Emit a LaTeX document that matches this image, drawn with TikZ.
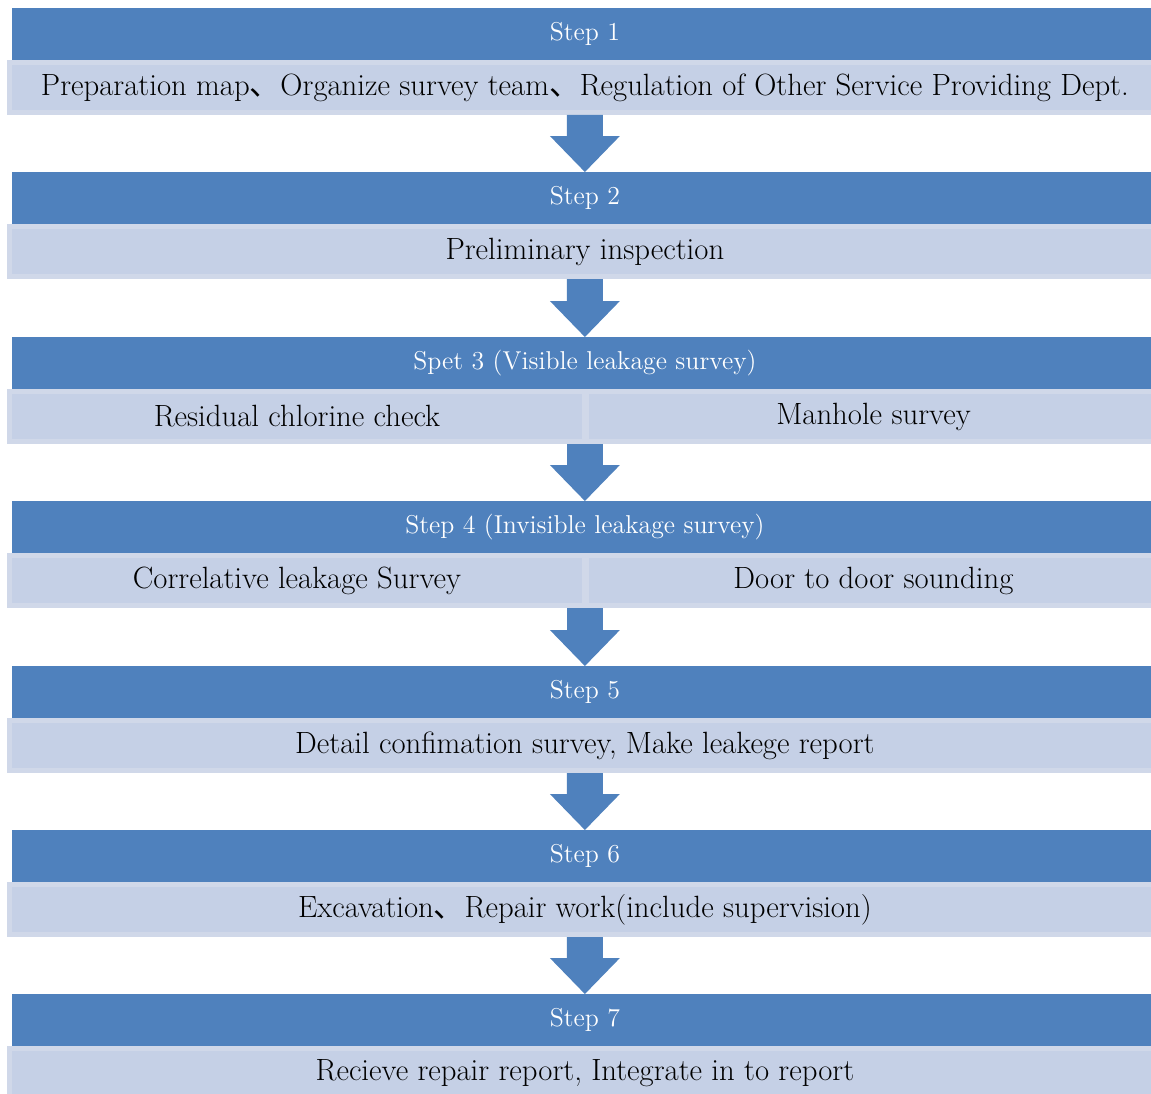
\documentclass[tikz,border=0pt]{standalone}
\usepackage{fontspec}
\usetikzlibrary{arrows.meta}
\newfontfamily\cjk{Noto Sans CJK JP}
\definecolor{stephead}{HTML}{4F81BD}
\definecolor{stepbody}{HTML}{C5D0E6}
\definecolor{steprim}{HTML}{D0D8E9}
\newcommand{\jcomma}{{\cjk 、}}

\begin{document}
\begin{tikzpicture}
      [   x=0.02cm, y=-0.02cm,
          head/.style={fill=stephead,text=white,anchor=north west,outer sep=0pt,inner sep=0pt,
                       minimum width=22.92cm,minimum height=1.04cm,font=\fontsize{14.7}{16}\selectfont},
          body/.style={fill=stepbody,draw=steprim,line width=0.1cm,anchor=north west,inner sep=0pt,
                       minimum height=1cm,font=\fontsize{17.5}{19}\selectfont},
          wide/.style={body,minimum width=23.02cm},
          half/.style={body,minimum width=#1},
          flow/.style={draw=stephead,line width=0.72cm,-{Triangle[length=0.72cm,width=1.4cm,line width=0pt]}},
      ]
          \useasboundingbox (0,0) rectangle (1151,1093);

          \node[head] (h1) at (12,8) {Step 1};
          \node[wide] (b1) at (7,60) {Preparation map\jcomma Organize survey team\jcomma Regulation of Other Service Providing Dept.};

          \node[head] (h2) at (12,172) {Step 2};
          \node[wide] (b2) at (7,224) {Preliminary inspection};

          \node[head] (h3) at (12,337) {Spet 3 (Visible leakage survey)};
          \node[half=11.5cm] (b3l) at (7,389) {Residual chlorine check};
          \node[half=11.48cm] (b3r) at (584,389) {Manhole survey};

          \node[head] (h4) at (12,501) {Step 4 (Invisible leakage survey)};
          \node[half=11.5cm] (b4l) at (7,553) {Correlative leakage Survey};
          \node[half=11.48cm] (b4r) at (584,553) {Door to door sounding};

          \node[head] (h5) at (12,666) {Step 5};
          \node[wide] (b5) at (7,718) {Detail confimation survey, Make leakege report};

          \node[head] (h6) at (12,830) {Step 6};
          \node[wide] (b6) at (7,882) {Excavation\jcomma Repair work(include supervision)};

          \node[head] (h7) at (12,994) {Step 7};
          \node[wide] (b7) at (7,1046) {Recieve repair report, Integrate in to report};

          % block arrows between the steps
          \draw[flow] (b1.south) -- (h2.north);
          \draw[flow] (b2.south) -- (h3.north);
          \draw[flow] (h4.north |- b3l.south east) -- (h4.north);
          \draw[flow] (h5.north |- b4l.south east) -- (h5.north);
          \draw[flow] (b5.south) -- (h6.north);
          \draw[flow] (b6.south) -- (h7.north);
    \end{tikzpicture}
\end{document}
